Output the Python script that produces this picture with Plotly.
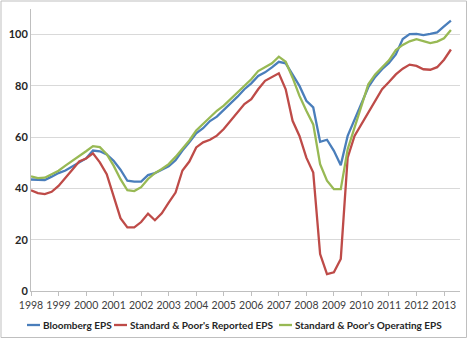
import plotly.graph_objects as go

# ---- data (quarterly, 1998Q1 .. 2013Q2) ----
start_year = 1998
bloomberg = [
    43.5, 43.5, 43.3, 44.6,
    46.0, 47.0, 48.5, 50.0,
    51.7, 54.8, 54.5, 53.3,
    50.8, 47.3, 43.0, 42.7,
    42.7, 45.2, 46.0, 47.3,
    48.6, 51.0, 54.8, 58.0,
    61.5, 63.5, 66.3, 68.0,
    70.5, 73.0, 75.8, 78.7,
    81.0, 83.9, 85.3, 87.2,
    89.4, 88.8, 84.5, 80.0,
    74.2, 71.6, 58.2, 59.0,
    54.7, 49.1, 60.5, 67.0,
    73.0, 79.5, 83.5, 86.5,
    89.0, 92.3, 98.3, 100.2,
    100.3, 99.8, 100.3, 100.9,
    103.2, 105.5,
]
sp_reported = [
    39.3, 38.2, 37.8, 38.7,
    41.0, 44.0, 47.3, 50.5,
    51.7, 53.7, 50.2, 45.6,
    37.1, 28.4, 24.8, 24.8,
    26.9, 30.2, 27.6, 30.3,
    34.5, 38.4, 47.0, 50.5,
    56.0, 58.0, 59.0, 60.6,
    63.2, 66.5, 69.7, 72.9,
    74.8, 78.7, 82.0, 83.5,
    84.9, 78.7, 66.4, 60.5,
    52.0, 46.2, 14.4, 6.6,
    7.3, 12.5, 52.0, 60.5,
    65.0, 70.0, 74.5, 78.7,
    81.5, 84.5, 86.7, 88.3,
    87.8, 86.5, 86.3, 87.3,
    90.2, 94.2,
]
sp_operating = [
    44.7, 44.0, 44.2, 45.6,
    46.9, 48.9, 50.7, 52.8,
    54.5, 56.5, 56.1, 53.4,
    48.9, 43.6, 39.3, 39.0,
    40.5, 43.7, 46.0, 47.6,
    49.5, 52.3, 55.5, 58.7,
    62.6, 65.2, 67.7, 70.3,
    72.3, 74.8, 77.4, 80.0,
    82.6, 85.8, 87.3, 88.8,
    91.4, 89.4, 83.2, 76.1,
    70.3, 65.0, 49.5, 43.0,
    39.7, 39.7, 55.3, 63.8,
    72.0, 80.6, 84.5, 87.1,
    90.0, 94.0, 96.0, 97.4,
    98.2, 97.5, 96.7, 97.3,
    98.6, 101.8,
]
series_names = ["Bloomberg EPS", "Standard & Poor's Reported EPS",
                "Standard & Poor's Operating EPS"]
series_colors = ["#4a7ebb", "#be4b48", "#98b954"]
tick_years = list(range(1998, 2014))
tick_labels = [str(y) for y in tick_years]
y_ticks = [0, 20, 40, 60, 80, 100]

x = [start_year + i / 4 for i in range(len(bloomberg))]

FONT = "Lato, Liberation Sans, sans-serif"

fig = go.Figure()
for vals, name, col in zip([bloomberg, sp_reported, sp_operating],
                           series_names, series_colors):
    fig.add_trace(go.Scatter(x=x, y=vals, mode="lines", name=name,
                             line=dict(color=col, width=2.3),
                             showlegend=False))

W, H = 468, 339
ml, mr, mt, mb = 31, 8, 9, 48
pw, ph = W - ml - mr, H - mt - mb

def px(xp):
    return (xp - ml) / pw

def py(yp):
    return (H - mb - yp) / ph

shapes = []
annotations = []
# manual legend
leg_y = 325
leg_items = [(27, 40, 41), (114, 127, 128), (279, 292, 293)]
for (x0, x1, tx), name, col in zip(leg_items, series_names, series_colors):
    shapes.append(dict(type="line", xref="paper", yref="paper",
                       x0=px(x0), x1=px(x1), y0=py(leg_y), y1=py(leg_y),
                       line=dict(color=col, width=2.3)))
    annotations.append(dict(xref="paper", yref="paper", x=px(tx), y=py(leg_y),
                            text=name, showarrow=False, xanchor="left",
                            yanchor="middle",
                            font=dict(family=FONT, size=10, color="#262626",
                                      weight="bold")))
# chart border
shapes.append(dict(type="rect", xref="paper", yref="paper",
                   x0=px(1), x1=px(W - 1.5), y0=py(H - 1.5), y1=py(1),
                   line=dict(color="#bfbfbf", width=1)))

fig.update_layout(
    width=W, height=H,
    margin=dict(l=ml, r=mr, t=mt, b=mb),
    paper_bgcolor="white", plot_bgcolor="white",
    font=dict(family=FONT, color="#404040"),
    shapes=shapes, annotations=annotations,
    xaxis=dict(range=[1998, 2013.58], tickvals=tick_years, ticktext=tick_labels,
               tickangle=0,
               showgrid=False, zeroline=False, showline=True,
               linecolor="#bfbfbf", linewidth=1, ticks="outside", ticklen=4,
               tickcolor="#bfbfbf", tickfont=dict(family=FONT, size=10.5,
                                                  color="#404040")),
    yaxis=dict(range=[0, 110], tickvals=y_ticks, showgrid=True,
               gridcolor="#d9d9d9", gridwidth=1, zeroline=False,
               showline=True, linecolor="#bfbfbf", linewidth=1, ticks="",
               tickfont=dict(family=FONT, size=11, color="#262626",
                             weight="bold")),
)

fig.write_html("out.html")
